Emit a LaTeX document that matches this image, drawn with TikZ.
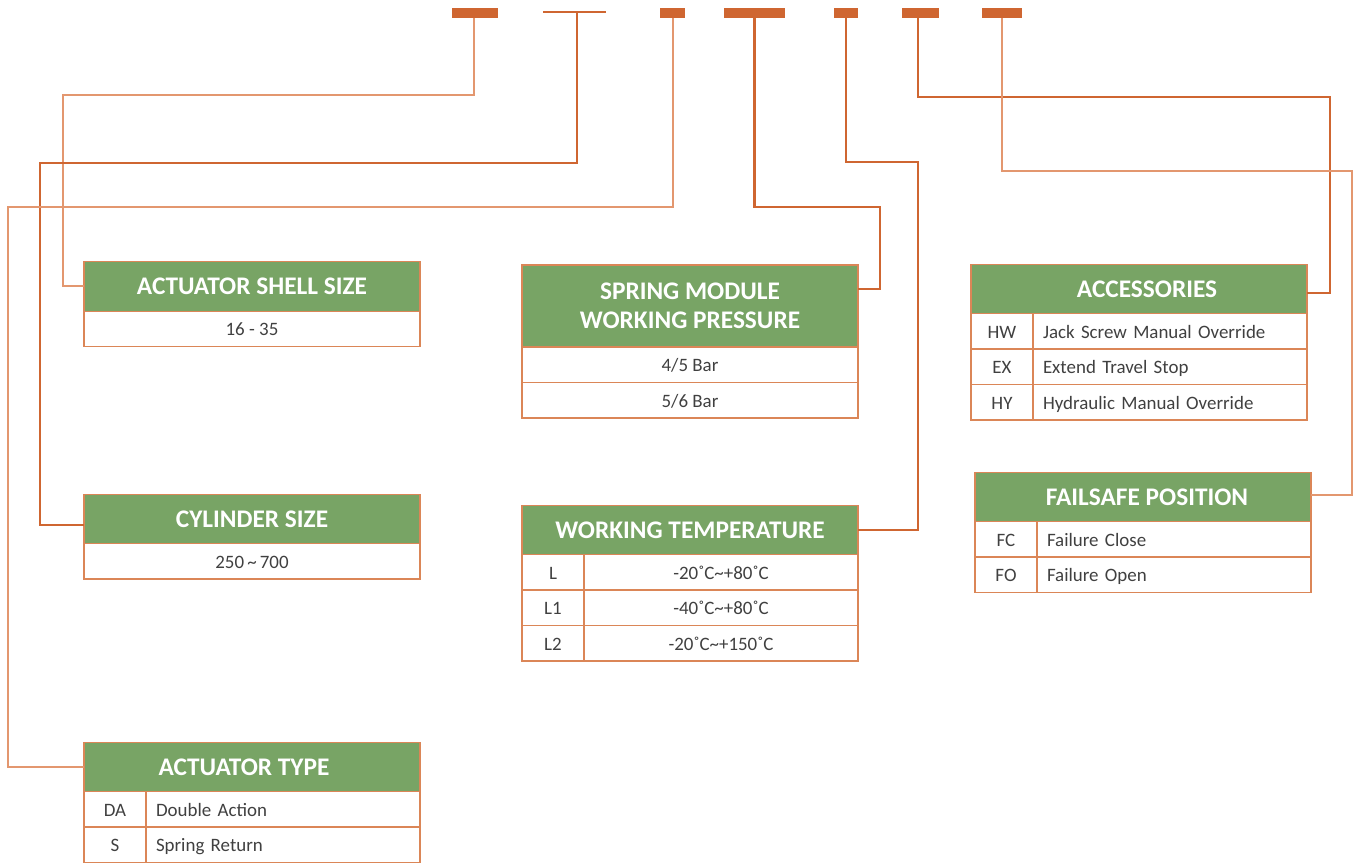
\documentclass[tikz,border=0pt]{standalone}
\usepackage{fontspec}
\setmainfont{Carlito}
\usetikzlibrary{positioning}
\definecolor{hdgreen}{HTML}{78A465}
\definecolor{rust}{HTML}{CF6631}
\definecolor{peach}{HTML}{E3976F}
\definecolor{rim}{HTML}{DB8657}
\definecolor{ink}{HTML}{404040}
\begin{document}
\begin{tikzpicture}[x=0.75pt,y=-0.75pt,
    every node/.style={outer sep=0pt, inner sep=0pt},
    head/.style={draw=rim, line width=1pt, fill=hdgreen, text=white,
        font=\fontsize{19}{21.75}\selectfont\bfseries, align=center,
        minimum width=252pt, minimum height=37pt},
    cell/.style={draw=rim, line width=1pt, text=ink,
        font=\fontsize{14.2}{16}\selectfont, minimum height=26.6pt,
        text height=10.5pt, text depth=0pt},
    wide/.style={cell, minimum width=252pt},
    code/.style={cell, minimum width=46.5pt},
    desc/.style={cell, text width=190.5pt, inner xsep=7.5pt, align=left},
    descc/.style={desc, align=center},
    bar/.style={fill=rust, minimum height=7.5pt},
    lite/.style={draw=peach, line width=1.5pt},
    dark/.style={draw=rust, line width=2pt}]
    \useasboundingbox (0,0) rectangle (1354,863);

    % code bars on top
    \node[bar, minimum width=34.5pt] (b1) at (475,13) {};
    \node[bar, minimum width=47pt, minimum height=1.8pt] (b2) at (574.5,12) {};
    \node[bar, minimum width=18.75pt] (b3) at (672.5,13) {};
    \node[bar, minimum width=45.75pt] (b4) at (754.5,13) {};
    \node[bar, minimum width=18pt] (b5) at (846,13) {};
    \node[bar, minimum width=27.75pt] (b6) at (920.5,13) {};
    \node[bar, minimum width=30pt] (b7) at (1002,13) {};

    % left column
    \node[head] (shell) at (252,286.5) {ACTUATOR SHELL SIZE};
    \node[wide, below=0pt of shell] (shellA) {16 - 35};

    \node[head] (cyl) at (252,519) {CYLINDER SIZE};
    \node[wide, below=0pt of cyl] (cylA) {250\,\textasciitilde\,700};

    \node[head] (type) at (252,767) {\hspace*{-12pt}ACTUATOR TYPE};
    \node[code, below right=0pt of type.south west] (typeDA) {DA};
    \node[desc, right=0pt of typeDA] {Double Action};
    \node[code, below=0pt of typeDA] (typeS) {S};
    \node[desc, right=0pt of typeS] {Spring Return};

    % middle column
    \node[head, minimum height=61.5pt] (spring) at (690,306) {SPRING MODULE\\WORKING PRESSURE};
    \node[wide, below=0pt of spring] (springA) {4/5 Bar};
    \node[wide, below=0pt of springA] (springB) {5/6 Bar};

    \node[head] (temp) at (690,530) {WORKING TEMPERATURE};
    \node[code, below right=0pt of temp.south west] (tempL) {L};
    \node[descc, right=0pt of tempL] {-20˚C\textasciitilde+80˚C};
    \node[code, below=0pt of tempL] (tempLa) {L1};
    \node[descc, right=0pt of tempLa] {-40˚C\textasciitilde+80˚C};
    \node[code, below=0pt of tempLa] (tempLb) {L2};
    \node[descc, right=0pt of tempLb] {-20˚C\textasciitilde+150˚C};

    % right column
    \node[head] (acc) at (1139,289) {\hspace*{12pt}ACCESSORIES};
    \node[code, below right=0pt of acc.south west] (accHW) {HW};
    \node[desc, right=0pt of accHW] {Jack Screw Manual Override};
    \node[code, below=0pt of accHW] (accEX) {EX};
    \node[desc, right=0pt of accEX] {Extend Travel Stop};
    \node[code, below=0pt of accEX] (accHY) {HY};
    \node[desc, right=0pt of accHY] {Hydraulic Manual Override};

    \node[head] (fail) at (1143,497) {\hspace*{6pt}FAILSAFE POSITION};
    \node[code, below right=0pt of fail.south west] (failFC) {FC};
    \node[desc, right=0pt of failFC] {Failure Close};
    \node[code, below=0pt of failFC] (failFO) {FO};
    \node[desc, right=0pt of failFO] {Failure Open};

    % bends of the leader lines
    \coordinate (k1) at (63,95);
    \coordinate (k2) at (40,163);
    \coordinate (k2e) at (40,525);
    \coordinate (k3) at (8,207);
    \coordinate (k4) at (880,207);
    \coordinate (k4e) at (880,289);
    \coordinate (k5) at (918,162);
    \coordinate (k6) at (1330,97);
    \coordinate (k6e) at (1330,293);
    \coordinate (k7) at (1352,171);
    \coordinate (k7e) at (1352,495);

    % leader lines
    \draw[lite] ([xshift=-0.75pt]b1.south) |- (k1) |- (shell.west);
    \draw[dark] ([xshift=1.9pt]b2.south) |- (k2) -- (k2e) -- (k2e -| cyl.west);
    \draw[lite] (b3.south) |- (k3) |- (type.west);
    \draw[dark] (b4.south) |- (k4) -- (k4e) -- (k4e -| spring.east);
    \draw[dark] (b5.south) |- (k5) |- (temp.east);
    \draw[dark] ([xshift=-1.9pt]b6.south) |- (k6) -- (k6e) -- (k6e -| acc.east);
    \draw[lite] (b7.south) |- (k7) -- (k7e) -- (k7e -| fail.east);
\end{tikzpicture}
\end{document}
